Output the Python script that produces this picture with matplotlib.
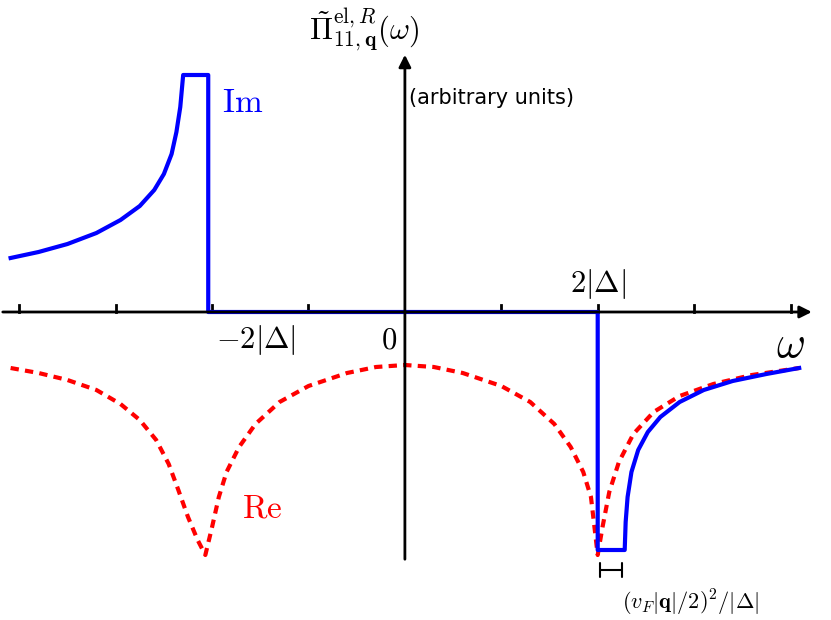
import matplotlib
matplotlib.use("Agg")
import matplotlib.pyplot as plt

plt.rcParams["mathtext.fontset"] = "cm"

# omega in units of |Delta|, response in arbitrary units
im_w = [-4.09, -3.8, -3.5, -3.2, -2.95, -2.75, -2.6, -2.5, -2.42, -2.37, -2.33, -2.30,
        -2.04, -2.04, 2.00, 2.00,
        2.28, 2.29, 2.31, 2.35, 2.42, 2.52, 2.65, 2.85, 3.1, 3.4, 3.75, 4.09]
im_y = [0.54, 0.60, 0.68, 0.79, 0.92, 1.06, 1.22, 1.38, 1.58, 1.80, 2.05, 2.37,
        2.37, 0.0, 0.0, -2.38,
        -2.38, -2.10, -1.85, -1.60, -1.38, -1.20, -1.05, -0.90, -0.78, -0.69, -0.62, -0.56]

re_w = [-4.09, -3.8, -3.5, -3.2, -2.95, -2.75, -2.58, -2.45, -2.35, -2.25, -2.15, -2.07,
        -2.0, -1.93, -1.85, -1.72, -1.55, -1.3, -1.0, -0.6, -0.3, 0.0,
        0.3, 0.6, 1.0, 1.3, 1.55, 1.72, 1.85, 1.93, 2.0,
        2.05, 2.12, 2.22, 2.37, 2.58, 2.85, 3.2, 3.6, 4.09]
re_y = [-0.56, -0.61, -0.68, -0.78, -0.92, -1.08, -1.28, -1.52, -1.78, -2.05, -2.28, -2.43,
        -2.15, -1.85, -1.60, -1.35, -1.12, -0.90, -0.74, -0.61, -0.55, -0.53,
        -0.55, -0.61, -0.74, -0.90, -1.12, -1.35, -1.60, -1.85, -2.43,
        -2.15, -1.80, -1.50, -1.22, -1.00, -0.84, -0.72, -0.63, -0.56]

tick_w = [-4, -3, -2, -1, 1, 2, 3, 4]

fig = plt.figure(figsize=(8.31, 6.2), dpi=100)
ax = fig.add_axes([0, 0, 1, 1])
ax.set_xlim(-4.20, 4.42)
ax.set_ylim(-3.08, 3.12)
ax.axis("off")

# axes with arrows
ax.annotate("", xy=(4.25, 0), xytext=(-4.2, 0),
            arrowprops=dict(arrowstyle="-|>", lw=2, color="black", mutation_scale=18))
ax.annotate("", xy=(0, 2.6), xytext=(0, -2.5),
            arrowprops=dict(arrowstyle="-|>", lw=2, color="black", mutation_scale=18))
for t in tick_w:
    ax.plot([t, t], [0, 0.07], color="black", lw=2)

ax.plot(re_w, re_y, color="red", lw=3, ls=(0, (2, 1.5)))
ax.plot(im_w, im_y, color="blue", lw=3)

ax.text(2.0, 0.28, r"$2|\Delta|$", fontsize=22, ha="center", va="center")
ax.text(-1.55, -0.28, r"$-2|\Delta|$", fontsize=22, ha="center", va="center")
ax.text(-0.16, -0.28, r"$0$", fontsize=22, ha="center", va="center")
ax.text(4.0, -0.33, r"$\omega$", fontsize=32, ha="center", va="center")
ax.text(-0.42, 2.82, r"$\tilde{\Pi}^{\mathrm{el},R}_{11,\mathbf{q}}(\omega)$",
        fontsize=22, ha="center", va="center")
ax.text(0.04, 2.14, "(arbitrary units)", fontsize=15, ha="left", va="center")
ax.text(-1.68, 2.09, r"$\mathrm{Im}$", fontsize=24, color="blue", ha="center", va="center")
ax.text(-1.48, -1.96, r"$\mathrm{Re}$", fontsize=24, color="red", ha="center", va="center")

# width bracket
ax.annotate("", xy=(2.28, -2.58), xytext=(2.0, -2.58),
            arrowprops=dict(arrowstyle="|-|", lw=1.5, color="black", mutation_scale=5))
ax.text(2.96, -2.91, r"$(v_F|\mathbf{q}|/2)^2/|\Delta|$", fontsize=16,
        ha="center", va="center")

fig.savefig("out.png", dpi=100)
